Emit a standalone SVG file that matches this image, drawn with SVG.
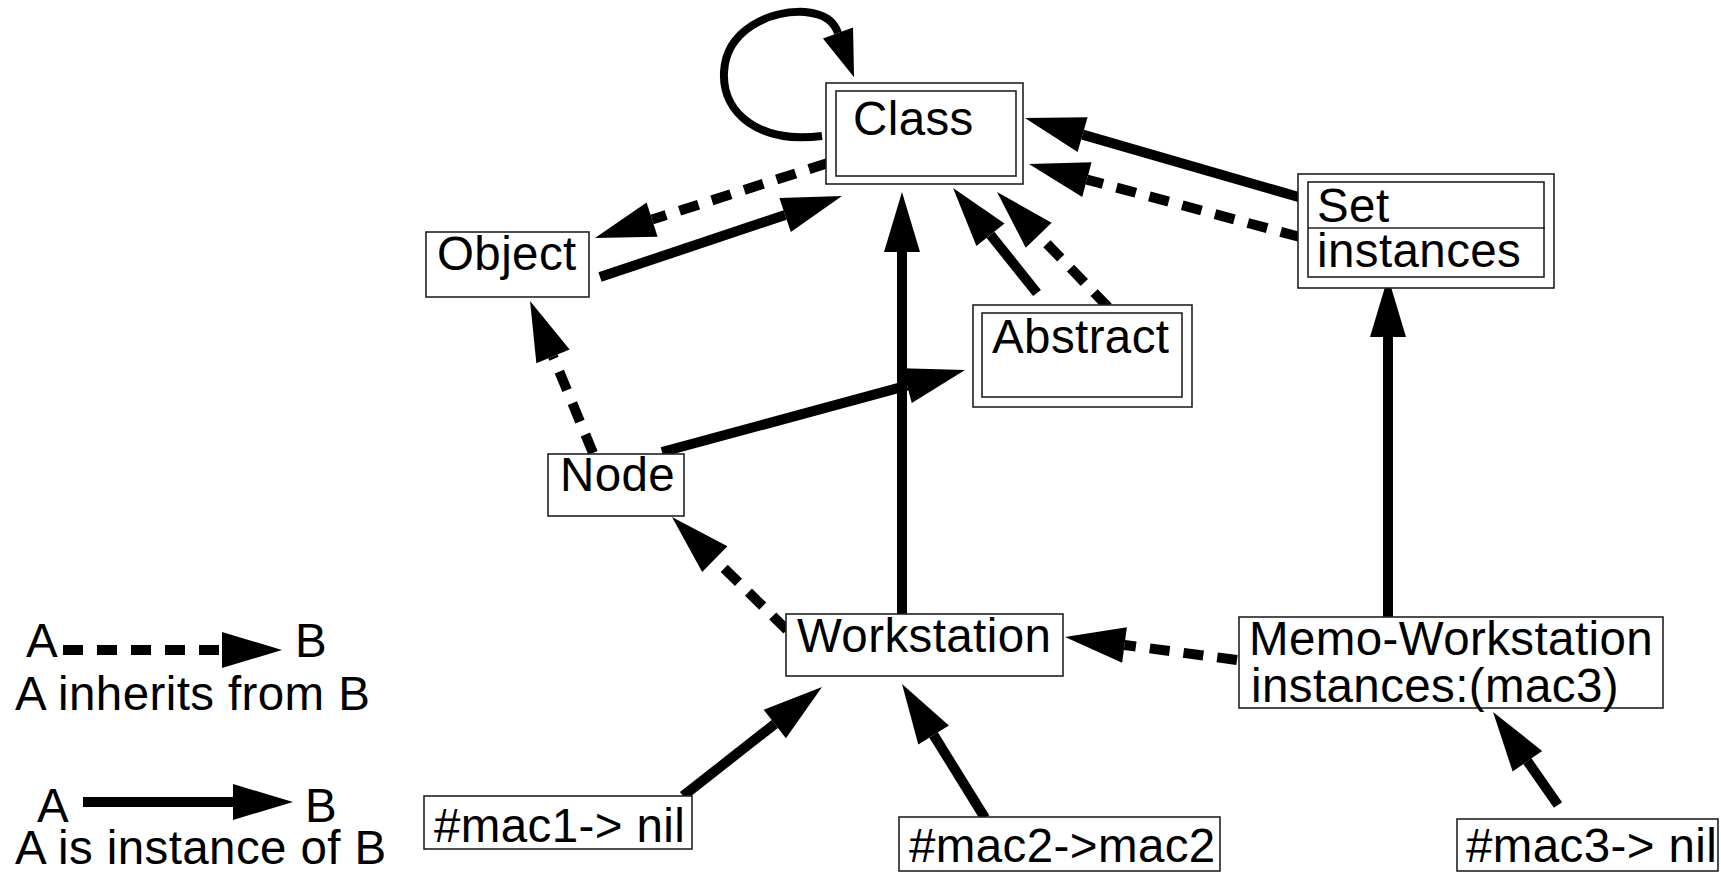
<svg xmlns="http://www.w3.org/2000/svg" width="1721" height="873" viewBox="0 0 1721 873">
<style>
  .box { fill: #fff; stroke: #222; stroke-width: 1.6; }
  .lbl { font-family: "Liberation Sans", Arial, sans-serif; font-size: 47.5px; letter-spacing: 0.4px; fill: #000; }
  .solid { fill: none; stroke: #000; stroke-width: 10; marker-end: url(#ah); }
  .dash { fill: none; stroke: #000; stroke-width: 10; stroke-dasharray: 20 14; marker-end: url(#ah); }
</style>
<defs>
  <marker id="ah" markerUnits="userSpaceOnUse" markerWidth="60" markerHeight="36" refX="0" refY="18" orient="auto" overflow="visible">
    <path d="M0,0 L60,18 L0,36 Z" fill="#000"/>
  </marker>
  <marker id="ahs" markerUnits="userSpaceOnUse" markerWidth="47" markerHeight="32" refX="0" refY="16" orient="auto" overflow="visible">
    <path d="M0,0 L47,16 L0,32 Z" fill="#000"/>
  </marker>
</defs>
<rect width="1721" height="873" fill="#fff"/>

<g id="connectors">
  <path d="M 822 136 C 760 144, 722 114, 724 72 C 726 30, 770 10, 805 12 C 826 14, 834 22, 838 33" fill="none" stroke="#000" stroke-width="8" marker-end="url(#ahs)"/>
  <line class="dash" x1="828" y1="163" x2="652.1" y2="219.6"/>
  <line class="solid" x1="600" y1="277" x2="785.1" y2="215"/>
  <line class="solid" x1="902" y1="614" x2="902" y2="252"/>
  <line class="solid" x1="1037" y1="293" x2="990.5" y2="234.8"/>
  <line class="dash" x1="1108" y1="307" x2="1038.7" y2="235.2"/>
  <line class="solid" x1="1302" y1="198" x2="1082.6" y2="134.6"/>
  <line class="dash" x1="1300" y1="237" x2="1086.9" y2="179.6"/>
  <line class="dash" x1="593" y1="453" x2="553" y2="356.4"/>
  <line class="solid" x1="662" y1="452" x2="907.1" y2="385.7"/>
  <line class="dash" x1="787" y1="630" x2="714.8" y2="559.1"/>
  <line class="dash" x1="1237" y1="660" x2="1124.5" y2="645"/>
  <line class="solid" x1="1388" y1="617" x2="1388" y2="337"/>
  <line class="solid" x1="683" y1="796" x2="774.8" y2="724"/>
  <line class="solid" x1="985" y1="818" x2="933.6" y2="735"/>
  <line class="solid" x1="1558" y1="805" x2="1527.4" y2="761.2"/>
</g>

<g id="node-class">
  <rect class="box" x="826" y="83" width="197" height="101"/>
  <rect class="box" x="836" y="91" width="180" height="85"/>
  <text class="lbl" x="853" y="135">Class</text>
</g>
<g id="node-object">
  <rect class="box" x="426" y="232" width="163" height="65"/>
  <text class="lbl" x="437" y="270">Object</text>
</g>
<g id="node-abstract">
  <rect class="box" x="973" y="305" width="219" height="102"/>
  <rect class="box" x="982" y="313" width="200" height="84"/>
  <text class="lbl" x="992" y="353">Abstract</text>
</g>
<g id="node-set">
  <rect class="box" x="1298" y="174" width="256" height="114"/>
  <rect class="box" x="1308" y="182" width="236" height="95"/>
  <line x1="1308" y1="228" x2="1545" y2="228" stroke="#222" stroke-width="1.6"/>
  <text class="lbl" x="1317" y="222">Set</text>
  <text class="lbl" x="1317" y="267">instances</text>
</g>
<g id="node-node">
  <rect class="box" x="548" y="454" width="136" height="62"/>
  <text class="lbl" x="560" y="491">Node</text>
</g>
<g id="node-workstation">
  <rect class="box" x="786" y="614" width="277" height="62"/>
  <text class="lbl" x="797" y="652">Workstation</text>
</g>
<g id="node-memo">
  <rect class="box" x="1239" y="617" width="424" height="91"/>
  <text class="lbl" x="1249" y="655">Memo-Workstation</text>
  <text class="lbl" x="1251" y="702">instances:(mac3)</text>
</g>
<g id="node-mac1">
  <rect class="box" x="424" y="796" width="268" height="53"/>
  <text class="lbl" x="434" y="842">#mac1-&gt; nil</text>
</g>
<g id="node-mac2">
  <rect class="box" x="899" y="817" width="321" height="54"/>
  <text class="lbl" x="909" y="862">#mac2-&gt;mac2</text>
</g>
<g id="node-mac3">
  <rect class="box" x="1457" y="819" width="261" height="52"/>
  <text class="lbl" x="1466" y="862">#mac3-&gt; nil</text>
</g>

<g id="legend">
  <text class="lbl" x="26" y="657">A</text>
  <line class="dash" x1="63" y1="650" x2="222" y2="650"/>
  <text class="lbl" x="295" y="657">B</text>
  <text class="lbl" x="15" y="710">A inherits from B</text>
  <text class="lbl" x="37" y="822">A</text>
  <line class="solid" x1="83" y1="802" x2="233" y2="802"/>
  <text class="lbl" x="305" y="822">B</text>
  <text class="lbl" x="15" y="864">A is instance of B</text>
</g>
</svg>
